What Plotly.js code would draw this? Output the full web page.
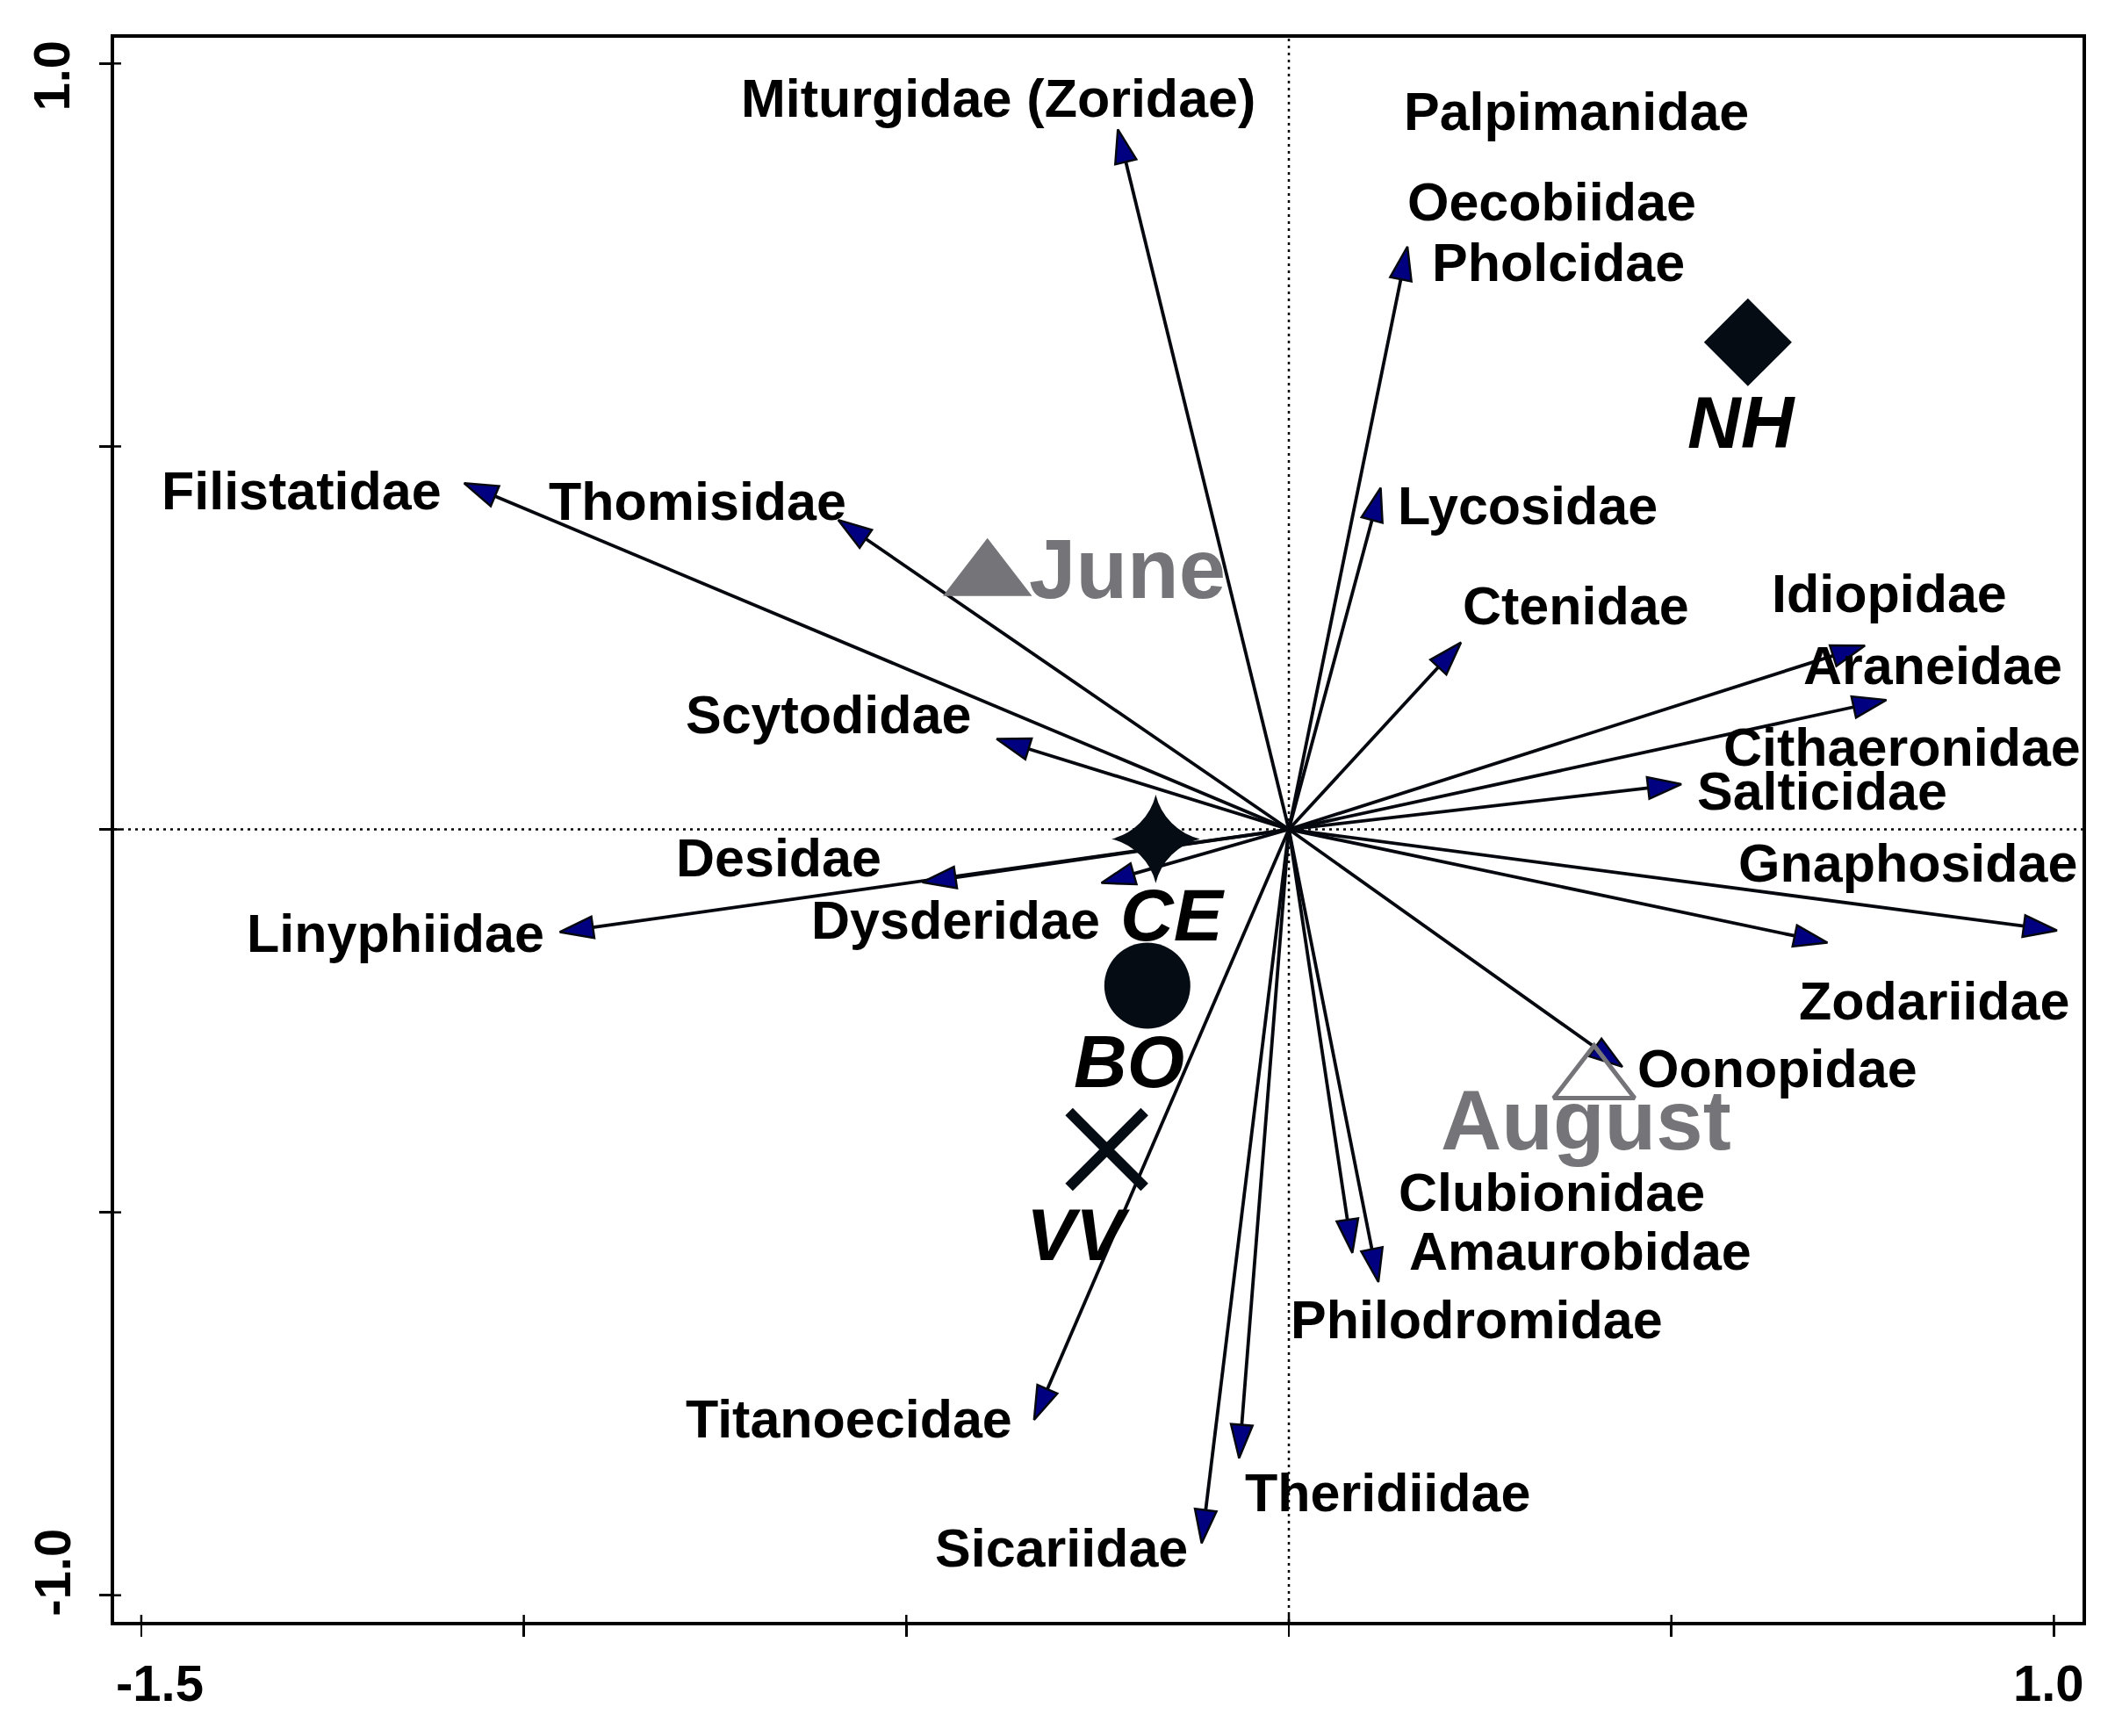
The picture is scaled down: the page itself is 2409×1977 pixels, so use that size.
<!DOCTYPE html>
<html><head><meta charset="utf-8">
<script src="https://cdn.plot.ly/plotly-3.0.1.min.js"></script>
<style>html,body{margin:0;padding:0;background:#fff}#chart{width:2409px;height:1977px}</style>
</head><body><div id="chart"></div>
<script>
// Arrow tips (species vectors)
const arrowNames = ['Miturgidae (Zoridae)','Pholcidae','Lycosidae','Ctenidae','Idiopidae','Araneidae','Salticidae','Gnaphosidae','Zodariidae','Oonopidae','Clubionidae','Amaurobidae','Theridiidae','Sicariidae','Titanoecidae','Linyphiidae','Desidae','Dysderidae','Scytodidae','Thomisidae','Filistatidae'];
const arrowX = [-0.2235, 0.155, 0.120, 0.225, 0.753, 0.781, 0.513, 1.004, 0.704, 0.436, 0.083, 0.117, -0.065, -0.114, -0.333, -0.953, -0.479, -0.245, -0.382, -0.589, -1.078];
const arrowY = [0.914, 0.761, 0.446, 0.244, 0.240, 0.169, 0.059, -0.132, -0.148, -0.310, -0.553, -0.591, -0.821, -0.932, -0.771, -0.134, -0.069, -0.070, 0.118, 0.404, 0.452];

// Species labels
const labelNames = ['Miturgidae (Zoridae)','Palpimanidae','Oecobiidae','Pholcidae','Filistatidae','Thomisidae','Lycosidae','Ctenidae','Idiopidae','Araneidae','Cithaeronidae','Salticidae','Scytodidae','Desidae','Gnaphosidae','Linyphiidae','Dysderidae','Zodariidae','Oonopidae','Clubionidae','Amaurobidae','Philodromidae','Titanoecidae','Theridiidae','Sicariidae'];
const labelX = [-0.380, 0.376, 0.344, 0.352, -1.291, -0.773, 0.312, 0.375, 0.785, 0.842, 0.801, 0.697, -0.602, -0.667, 0.809, -1.168, -0.435, 0.843, 0.639, 0.344, 0.381, 0.246, -0.575, 0.129, -0.297];
const labelY = [0.954, 0.937, 0.819, 0.740, 0.442, 0.428, 0.422, 0.292, 0.308, 0.214, 0.107, 0.050, 0.150, -0.037, -0.044, -0.136, -0.119, -0.224, -0.312, -0.474, -0.551, -0.640, -0.770, -0.866, -0.938];

// Sampling months
const monthNames = ['June','August'];
const monthX = [-0.394, 0.399];
const monthY = [0.330, -0.328];
const monthLabelX = [-0.211, 0.389];
const monthLabelY = [0.341, -0.380];

// Sites
const siteNames = ['NH','CE','BO','VV'];
const siteX = [0.600, -0.174, -0.185, -0.238];
const siteY = [0.636, -0.0125, -0.204, -0.418];
const siteLabelX = [0.592, -0.152, -0.209, -0.276];
const siteLabelY = [0.531, -0.112, -0.303, -0.529];

// Axes ticks
const xTickVals = [-1.5, -1.0, -0.5, 0, 0.5, 1.0];
const yTickVals = [-1.0, -0.5, 0, 0.5, 1.0];
const xTickText = ['-1.5', '1.0'];
const xTickTextPos = [-1.476, 0.993];
const yTickText = ['-1.0', '1.0'];
const yTickTextPos = [-0.9705, 0.9845];

const FONT = 'Liberation Sans, Arial, Helvetica, sans-serif';
const GRAY = '#757579';
const DARK = '#060c14';

// arrows trace
const ax = [], ay = [], asz = [];
arrowX.forEach((v, i) => { ax.push(0, v, null); ay.push(0, arrowY[i], null); asz.push(0, 40, 0); });

const traces = [
  {
    type: 'scatter', mode: 'lines+markers', x: ax, y: ay,
    line: {color: '#05080f', width: 3.8},
    marker: {symbol: 'arrow', angleref: 'previous', size: asz, opacity: 1, color: '#000080', line: {color: '#05080f', width: 2.5}},
    hoverinfo: 'skip', showlegend: false, cliponaxis: false
  },
  {
    type: 'scatter', mode: 'markers', x: [monthX[0]], y: [monthY[0]],
    marker: {symbol: 'triangle-up', size: 88, opacity: 1, color: GRAY, line: {width: 0}},
    hoverinfo: 'skip', showlegend: false
  },
  {
    type: 'scatter', mode: 'markers', x: [monthX[1]], y: [monthY[1]],
    marker: {symbol: 'triangle-up-open', size: 80, opacity: 1, color: GRAY, line: {width: 5, color: GRAY}},
    hoverinfo: 'skip', showlegend: false
  },
  {
    type: 'scatter', mode: 'markers', x: siteX.slice(0, 3), y: siteY.slice(0, 3),
    marker: {symbol: ['diamond', 'star-diamond', 'circle'], size: [77, 72, 98], opacity: 1, color: DARK, line: {width: 0}},
    hoverinfo: 'skip', showlegend: false
  },
  {
    type: 'scatter', mode: 'markers', x: siteX.slice(3), y: siteY.slice(3),
    marker: {symbol: 'x-thin', size: 86, opacity: 1, color: DARK, line: {width: 12, color: DARK}},
    hoverinfo: 'skip', showlegend: false
  }
];

const annotations = [];
labelNames.forEach((t, i) => annotations.push({
  x: labelX[i], y: labelY[i], xref: 'x', yref: 'y', text: t, showarrow: false,
  xanchor: 'center', yanchor: 'middle',
  font: {family: FONT, size: 61, color: '#000', weight: 'bold'}
}));
monthNames.forEach((t, i) => annotations.push({
  x: monthLabelX[i], y: monthLabelY[i], xref: 'x', yref: 'y', text: t, showarrow: false,
  xanchor: 'center', yanchor: 'middle',
  font: {family: FONT, size: 96, color: GRAY, weight: 'bold'}
}));
siteNames.forEach((t, i) => annotations.push({
  x: siteLabelX[i], y: siteLabelY[i], xref: 'x', yref: 'y', text: t, showarrow: false,
  xanchor: 'center', yanchor: 'middle',
  font: {family: FONT, size: 84, color: '#000', weight: 'bold', style: 'italic'}
}));
xTickText.forEach((t, i) => annotations.push({
  x: xTickTextPos[i], y: -0.0386, xref: 'x', yref: 'paper', text: t, showarrow: false,
  xanchor: 'center', yanchor: 'middle',
  font: {family: FONT, size: 58, color: '#000', weight: 'bold'}
}));
yTickText.forEach((t, i) => annotations.push({
  x: -0.0318, y: yTickTextPos[i], xref: 'paper', yref: 'y', text: t, showarrow: false,
  xanchor: 'center', yanchor: 'middle', textangle: -90,
  font: {family: FONT, size: 58, color: '#000', weight: 'bold'}
}));

const shapes = [
  {type: 'line', xref: 'x', yref: 'paper', x0: 0, x1: 0, y0: 0, y1: 1, layer: 'below',
   line: {color: '#000', width: 2.5, dash: '3px,5px'}},
  {type: 'line', xref: 'paper', yref: 'y', x0: 0, x1: 1, y0: 0, y1: 0, layer: 'below',
   line: {color: '#000', width: 2.5, dash: '3px,5px'}}
];
xTickVals.forEach(v => shapes.push({type: 'line', xref: 'x', yref: 'paper', ysizemode: 'pixel', yanchor: 0,
  x0: v, x1: v, y0: 0, y1: 8, line: {color: '#000', width: 2.5}}));
yTickVals.forEach(v => shapes.push({type: 'line', xref: 'paper', yref: 'y', xsizemode: 'pixel', xanchor: 0,
  y0: v, y1: v, x0: 0, x1: 8, line: {color: '#000', width: 2.5}}));

const axisCommon = {
  showline: true, linewidth: 4, linecolor: '#000', mirror: true,
  ticks: 'outside', ticklen: 13, tickwidth: 2.5, tickcolor: '#000',
  showticklabels: false, showgrid: false, zeroline: false, fixedrange: true
};

const layout = {
  width: 2409, height: 1977,
  margin: {l: 130, r: 37, t: 43, b: 130, pad: 0},
  paper_bgcolor: '#fff', plot_bgcolor: '#fff',
  xaxis: Object.assign({}, axisCommon, {range: [-1.5355, 1.0374], tickmode: 'array', tickvals: xTickVals}),
  yaxis: Object.assign({}, axisCommon, {range: [-1.0347, 1.0336], tickmode: 'array', tickvals: yTickVals}),
  showlegend: false,
  annotations: annotations,
  shapes: shapes
};

Plotly.newPlot('chart', traces, layout, {staticPlot: true, displayModeBar: false});
</script>
</body></html>
